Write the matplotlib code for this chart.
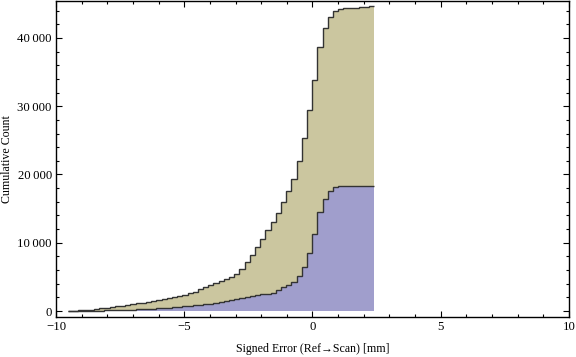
import numpy as np
import matplotlib
matplotlib.use("Agg")
import matplotlib.pyplot as plt
import matplotlib.ticker as ticker

# histogram bins (uniform width)
bin_left = -9.53
bin_width = 0.2025

# cumulative counts per bin: stacked total (tan top) and lower set (blue)
cum_total = [30, 60, 100, 160, 220, 300, 380, 480, 580, 700,
             800, 920, 1020, 1120, 1240, 1360, 1480, 1620, 1760, 1900,
             2060, 2220, 2400, 2600, 2850, 3200, 3550, 3850, 4170, 4450,
             4740, 5030, 5420, 6140, 7120, 8190, 9400, 10600, 11900, 13100,
             14400, 16000, 17600, 19400, 22000, 25400, 29500, 33900, 38600, 41500,
             43100, 43900, 44200, 44350, 44400, 44450, 44550, 44600, 44620]
cum_blue = [10, 15, 20, 30, 40, 50, 60, 75, 90, 110,
            140, 170, 200, 230, 270, 310, 350, 400, 450, 500,
            550, 610, 680, 750, 820, 900, 980, 1070, 1160, 1300,
            1450, 1590, 1720, 1850, 1990, 2130, 2290, 2440, 2560, 2700,
            3070, 3560, 3750, 4290, 5120, 6480, 8430, 11260, 14570, 16470,
            17640, 18230, 18250, 18260, 18270, 18270, 18270, 18280, 18280]

xticks_major = [-10, -5, 0, 5, 10]
yticks_major = [0, 10000, 20000, 30000, 40000]

edges = bin_left + bin_width * np.arange(len(cum_total) + 1)
cum_total = np.array(cum_total)
cum_blue = np.array(cum_blue)

plt.rcParams['font.family'] = ['Liberation Serif', 'DejaVu Serif']

fig = plt.figure(figsize=(5.76, 3.57), dpi=100)
ax = fig.add_axes([0.0972, 0.112, 0.8906, 0.886])

blue = "#a09ecc"
tan = "#cbc69f"
edge = "#333333"

ax.stairs(cum_blue, edges, baseline=0, fill=True, color=blue, lw=0)
ax.stairs(cum_total, edges, baseline=cum_blue, fill=True, color=tan, lw=0)
ax.stairs(cum_blue, edges, baseline=None, color=edge, lw=1.0)
ax.stairs(cum_total, edges, baseline=None, color=edge, lw=1.0)

ax.set_xlim(-10, 10)
ax.set_ylim(-880, 45450)

ax.xaxis.set_major_locator(ticker.FixedLocator(xticks_major))
ax.xaxis.set_minor_locator(ticker.MultipleLocator(1))
ax.yaxis.set_major_locator(ticker.FixedLocator(yticks_major))
ax.yaxis.set_minor_locator(ticker.MultipleLocator(2000))


def fmt_y(v, pos):
    v = int(round(v))
    if v == 0:
        return "0"
    return "{:,}".format(v).replace(",", "\u2009")


def fmt_x(v, pos):
    v = int(round(v))
    return ("\u2212%d" % -v) if v < 0 else "%d" % v


ax.yaxis.set_major_formatter(ticker.FuncFormatter(fmt_y))
ax.xaxis.set_major_formatter(ticker.FuncFormatter(fmt_x))

ax.tick_params(which="both", direction="in", top=True, right=True,
               labelsize=9.2, colors="black", width=0.8)
ax.tick_params(which="major", length=4, pad=3)
ax.tick_params(which="minor", length=2.2)

for s in ax.spines.values():
    s.set_linewidth(1.0)
    s.set_color("black")

ax.set_xlabel("Signed Error (Ref\u2192Scan) [mm]", fontsize=8.6)
ax.set_ylabel("Cumulative Count", fontsize=8.6)
ax.xaxis.set_label_coords(0.5, -0.082)
ax.yaxis.set_label_coords(-0.084, 0.5)

fig.savefig("out.png", dpi=100)
